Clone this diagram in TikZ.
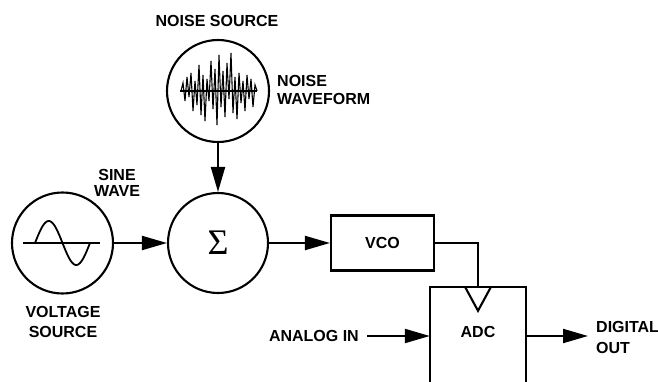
\documentclass[tikz,border=0pt]{standalone}
\usepackage{fontspec}
\setmainfont{Liberation Sans}
\newfontfamily\sigmafont{Liberation Serif}
\usetikzlibrary{arrows.meta,calc}
\tikzset{
  lbl/.style={font=\fontsize{16}{19}\selectfont\bfseries, inner sep=0pt},
  ln/.style={line width=2.1pt},
  arr/.style={ln, -{Triangle[length=25pt,width=14pt]}},
  circ/.style={ln, draw, circle, minimum size=100pt, inner sep=0pt},
  boxnode/.style={ln, draw, rectangle, inner sep=0pt},
}
\begin{document}
\begin{tikzpicture}[x=1pt,y=-1pt]
\useasboundingbox (0,0) rectangle (658,382);
% circles
\node[circ, minimum size=102pt] (noise) at (218,91) {};
\node[circ] (sigma) at (218,243) {\sigmafont\fontsize{36}{36}\selectfont Σ};
\node[circ, minimum size=101pt] (sine) at (62.5,243) {};
% noise waveform
\draw[line width=1.3pt] (noise.center) ++(-38,0) coordinate (nl) -- ++(77,0) coordinate (nr);
\draw[line width=1.1pt, line join=miter] plot coordinates {(181,91) (183,83) (185,101) (187,77) (189,97) (191,73) (193,111) (195,81) (197,105) (199,65) (201,115) (203,75) (205,121) (207,79) (209,101) (211,61) (213,109) (215,69) (217,125) (219,55) (221,107) (223,71) (225,117) (227,63) (229,99) (231,53) (233,113) (235,77) (237,119) (239,73) (241,103) (243,81) (245,111) (247,75) (249,99) (251,79) (253,107) (255,85) (257,91)};
% sine waveform
\draw[line width=1.8pt] (sine.center) ++(-39.5,0) -- ++(77,0);
\draw[line width=1.8pt] plot[domain=0:360, samples=61, smooth] ({35+\x/360*55}, {243-22*sin(\x)});
% boxes
\node[boxnode, minimum width=103pt, minimum height=55pt] (vco) at (382.5,243) {};
\node[lbl] at (vco.center) {VCO};
\node[rectangle, minimum width=96pt, minimum height=110pt, inner sep=0pt,
      label={[lbl, yshift=10pt]center:ADC}] (adc) at (478,342) {};
\draw[ln, line join=miter] (adc.south west) -- (adc.north west) -- (adc.north east) -- (adc.south east);
\draw[ln, line join=miter] ([xshift=-13pt]adc.north) -- ([yshift=-24pt]adc.north) -- ([xshift=13pt]adc.north);
% labels
\node[lbl, anchor=base] (nsrc) at (217,27) {NOISE SOURCE};
\node[lbl, anchor=north west, align=left, font=\fontsize{16}{18.6}\selectfont\bfseries] (nwave) at (277,75) {NOISE\\WAVEFORM};
\node[lbl, anchor=north, align=center, font=\fontsize{16}{15.7}\selectfont\bfseries] (swave) at (117,169) {SINE\\WAVE};
\node[lbl, anchor=north, align=center, font=\fontsize{16}{20.5}\selectfont\bfseries] (vsrc) at (63,306) {VOLTAGE\\SOURCE};
\node[lbl, anchor=east] (ain) at (359,336) {ANALOG IN};
\node[lbl, anchor=north west, align=left, font=\fontsize{16}{20.6}\selectfont\bfseries] (dout) at (596,321.5) {DIGITAL\\OUT};
% connectors
\draw[arr] (noise) -- (sigma);
\draw[arr] (sine) -- (sigma);
\draw[arr] (sigma) -- (vco);
\draw[ln] (vco.east) -| (adc.north);
\draw[arr] ([xshift=8pt]ain.east) -- (ain.east -| adc.west);
\draw[arr] (adc.east |- ain.east) -- ([xshift=-8pt]ain.east -| dout.west);
\end{tikzpicture}
\end{document}
